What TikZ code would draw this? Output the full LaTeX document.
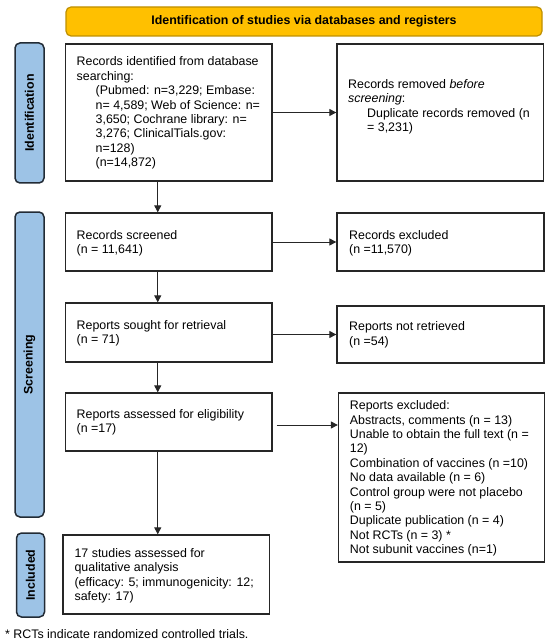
\documentclass[tikz,border=0pt]{standalone}
\usepackage{fontspec}
\setmainfont{Liberation Sans}
\usetikzlibrary{arrows.meta}
\definecolor{gold}{HTML}{FFC000}
\definecolor{goldline}{HTML}{BF9000}
\definecolor{sideblue}{HTML}{9DC3E6}
\definecolor{sideline}{HTML}{222B35}
\tikzset{
  box/.style={draw=black!85, line width=1.3pt, fill=white, inner sep=0pt},
  txt/.style={anchor=west, align=left, inner sep=0pt, font=\fontsize{12.4}{14.4}\selectfont},
  side/.style={draw=sideline, line width=1.5pt, fill=sideblue, rounded corners=5pt, rotate=90, inner sep=0pt, font=\bfseries\fontsize{12.4}{14.4}\selectfont},
  banner/.style={draw=goldline, line width=1.2pt, fill=gold, rounded corners=5pt, inner sep=0pt, font=\bfseries\fontsize{12.4}{14.4}\selectfont},
  arr/.style={draw=black!85, line width=1pt, -{Triangle[length=7pt,width=7pt]}}
}
\begin{document}
\begin{tikzpicture}[x=1pt,y=-1pt]
\useasboundingbox (0,0) rectangle (550,644);
% banner
\node[banner, minimum width=476pt, minimum height=29pt] (ban) at (304,21.5) {Identification of studies via databases and registers};
% side labels
\node[side, minimum width=140pt, minimum height=29pt] (sid) at (29.5,113) {Identification};
\node[side, minimum width=305pt, minimum height=29pt] (sscr) at (29.5,364.5) {Screening};
\node[side, minimum width=84pt, minimum height=28pt] (sinc) at (30.5,575) {Included};
% boxes
\node[box, minimum width=206.5pt, minimum height=137pt] (ident) at (168.75,112.5) {};
\node[box, minimum width=206.5pt, minimum height=137pt] (rem) at (440.25,112.5) {};
\node[box, minimum width=206.5pt, minimum height=58pt] (scr) at (168.75,242) {};
\node[box, minimum width=207pt, minimum height=58pt] (exc) at (440.5,242) {};
\node[box, minimum width=206.5pt, minimum height=59pt] (sought) at (168.75,332.5) {};
\node[box, minimum width=207pt, minimum height=57pt] (notret) at (440.5,334.5) {};
\node[box, minimum width=206.5pt, minimum height=58pt] (assess) at (168.75,422) {};
\node[box, minimum width=206pt, minimum height=169pt] (repexc) at (441.5,477.5) {};
\node[box, minimum width=206.5pt, minimum height=79pt] (incl) at (166.25,574.5) {};
% texts
\node[txt] (identt) at (76.5,113) {Records identified from database\\searching:\\
\hspace*{19pt}(Pubmed: n=3,229; Embase:\\
\hspace*{19pt}n= 4,589; Web of Science: n=\\
\hspace*{19pt}3,650; Cochrane library: n=\\
\hspace*{19pt}3,276; ClinicalTials.gov:\\
\hspace*{19pt}n=128)\\
\hspace*{19pt}(n=14,872)};
\node[txt] (remt) at (348,106.7) {Records removed \textit{before}\\\textit{screening}:\\
\hspace*{19pt}Duplicate records removed (n\\
\hspace*{19pt}= 3,231)};
\node[txt] (scrt) at (76.5,243.3) {Records screened\\(n = 11,641)};
\node[txt] (exct) at (349,243.5) {Records excluded\\(n =11,570)};
\node[txt] (soughtt) at (76.5,333) {Reports sought for retrieval\\(n = 71)};
\node[txt] (notrett) at (349,334.7) {Reports not retrieved\\(n =54)};
\node[txt] (assesst) at (76.5,422.5) {Reports assessed for eligibility\\(n =17)};
\node[txt] (repexct) at (349.7,478.5) {Reports excluded:\\Abstracts, comments (n = 13)\\Unable to obtain the full text (n =\\12)\\Combination of vaccines (n =10)\\No data available (n = 6)\\Control group were not placebo\\(n = 5)\\Duplicate publication (n = 4)\\Not RCTs (n = 3) *\\Not subunit vaccines (n=1)};
\node[txt] (inclt) at (74.4,575.6) {17 studies assessed for\\qualitative analysis\\(efficacy: 5; immunogenicity: 12;\\safety: 17)};
\node[txt] (foot) at (5,634) {* RCTs indicate randomized controlled trials.};
% arrows
\draw[arr] (ident.east) -- (rem.west);
\draw[arr] (scr.east) -- (exc.west);
\draw[arr] (sought.east |- notret.west) -- (notret.west);
\coordinate (a4) at ([xshift=4pt,yshift=-3pt]assess.east);
\draw[arr] (a4) -- (a4 -| repexc.west);
\coordinate (v1) at ([xshift=-11pt]ident.south);
\draw[arr] (v1) -- (v1 |- scr.north);
\coordinate (v2) at ([xshift=-11pt]scr.south);
\draw[arr] (v2) -- (v2 |- sought.north);
\coordinate (v3) at ([xshift=-11pt]sought.south);
\draw[arr] (v3) -- (v3 |- assess.north);
\coordinate (v4) at ([xshift=-11pt]assess.south);
\draw[arr] (v4) -- (v4 |- incl.north);
\end{tikzpicture}
\end{document}
